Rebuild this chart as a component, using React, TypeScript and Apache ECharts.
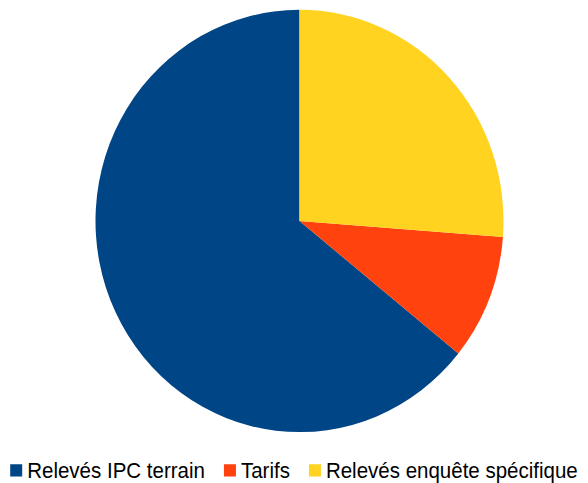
import React, { useEffect, useRef } from "react";
import * as echarts from "echarts";

const categories = ["Relevés IPC terrain", "Tarifs", "Relevés enquête spécifique"];
const values = [64.2, 9.6, 26.2];
const colors = ["#004586", "#ff420e", "#ffd320"];

const SY = 1.035;

export default function App() {
  const ref = useRef<HTMLDivElement>(null);
  useEffect(() => {
    if (!ref.current) return;
    const chart = echarts.init(ref.current, null, { renderer: "svg" });
    chart.setOption({
      animation: false,
      color: colors,
      legend: {
        top: 439,
        left: "center",
        itemWidth: 12,
        itemHeight: 12,
        itemGap: 19,
        icon: "rect",
        textStyle: { fontFamily: "Liberation Sans", fontSize: 20.5, color: "#000", lineHeight: 20 },
        data: categories,
      },
      series: [
        {
          type: "pie",
          center: [299.5, 213.5],
          radius: 204,
          startAngle: 90,
          clockwise: false,
          label: { show: false },
          labelLine: { show: false },
          emphasis: { disabled: true },
          itemStyle: { borderWidth: 0 },
          data: categories.map((c, i) => ({ name: c, value: values[i] })),
        },
      ],
    });
    return () => chart.dispose();
  }, []);
  return (
    <div
      ref={ref}
      style={{
        width: 588,
        height: 467,
        position: "absolute",
        left: 0,
        top: 0,
        transform: `scaleY(${SY})`,
        transformOrigin: "0 0",
      }}
    />
  );
}
